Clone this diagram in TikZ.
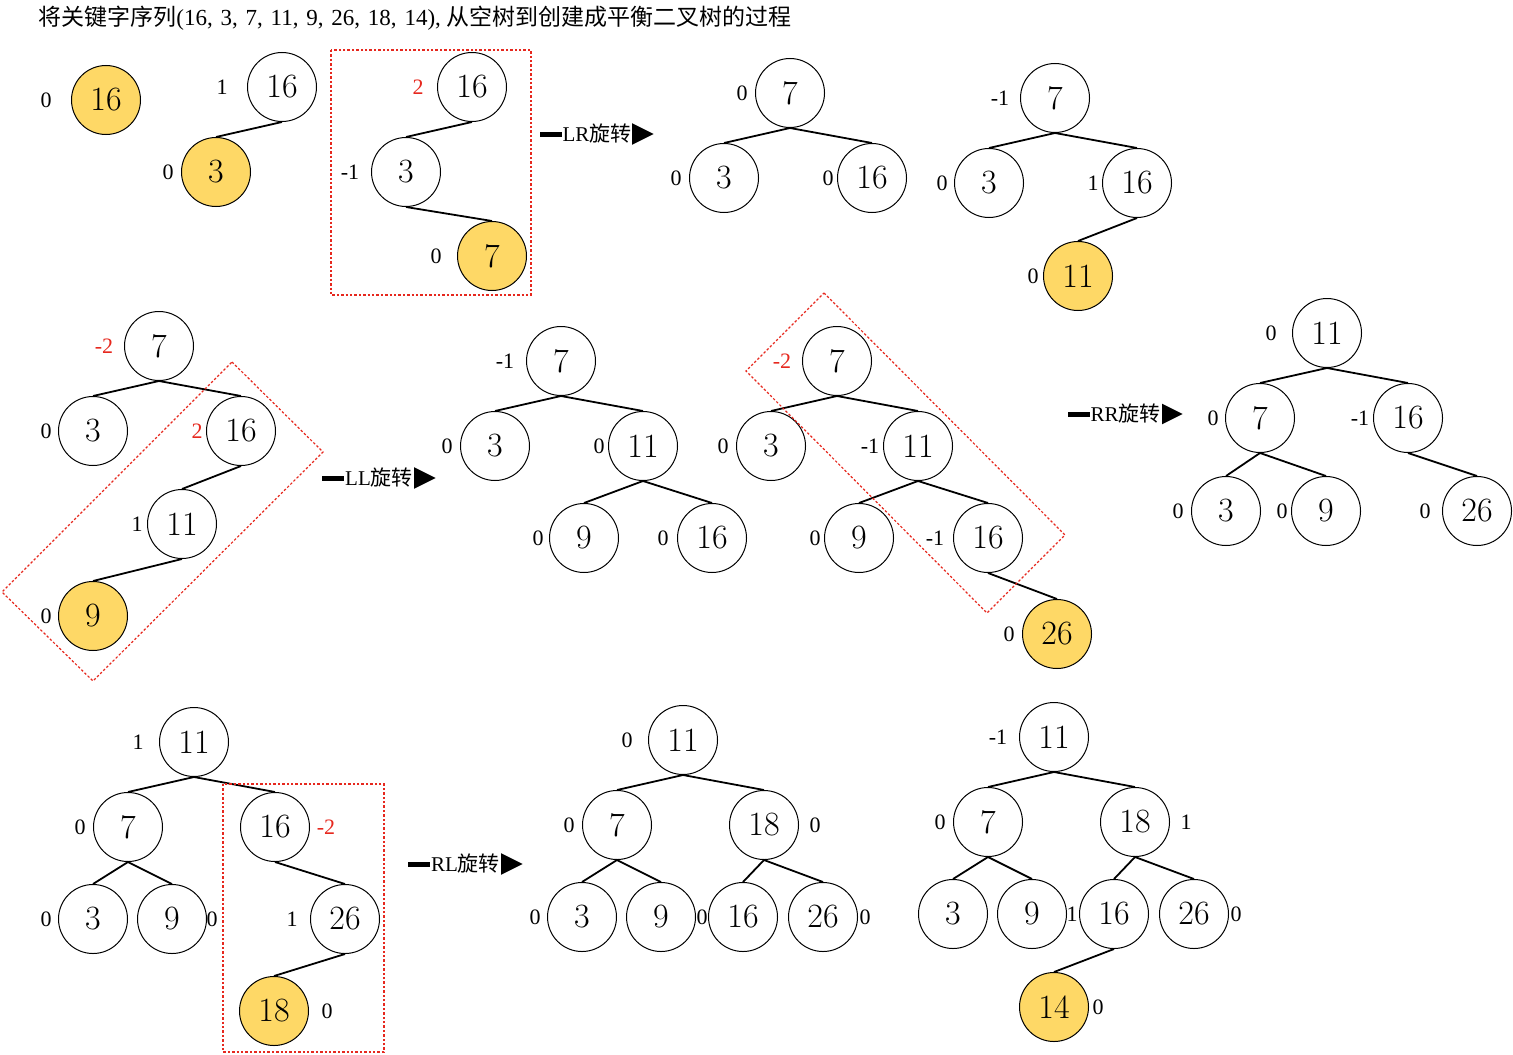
\documentclass[tikz,border=0pt]{standalone}
\usepackage{fontspec}
\setmainfont{Liberation Serif}
\newfontfamily\cjk{Noto Sans CJK SC}
\newfontfamily\lmr{Latin Modern Roman}
\usetikzlibrary{arrows.meta}
\definecolor{ayel}{RGB}{254,216,102}
\definecolor{ared}{RGB}{230,40,30}
\newcommand\tsep{,\hspace{3.9pt}}
\begin{document}
\begin{tikzpicture}[x=0.5pt,y=-0.5pt,
  nd/.style={circle,draw=black,line width=0.5pt,minimum size=34.5pt,inner sep=0pt,font=\lmr\fontsize{17}{17}\selectfont},
  yn/.style={nd,fill=ayel},
  lb/.style={inner sep=0pt,font=\fontsize{11}{11}\selectfont},
  rlb/.style={lb,text=ared},
  edge/.style={line width=0.9pt},
  box/.style={draw=ared,line width=0.6pt,dash pattern=on 1.2pt off 1pt},
  arr/.style={line width=2.5pt,-{Triangle[length=11pt,width=10pt]}},
  atext/.style={fill=white,inner sep=0.5pt,font=\fontsize{10.5}{10.5}\selectfont}
]
\useasboundingbox (0,0) rectangle (1513,1054);
% title
\node[anchor=west,inner sep=0pt,font=\fontsize{11.5}{11.5}\selectfont] (title) at (38,18) {{\cjk 将关键字序列}(16\tsep 3\tsep 7\tsep 11\tsep 9\tsep 26\tsep 18\tsep 14),\hspace{3pt}{\cjk 从空树到创建成平衡二叉树的过程}};

% ---- tree A
\node[yn] (a16) at (106,100) {16};
\node[lb] (a16l) at (46,100) {0};

% ---- tree B
\node[nd] (b16) at (282,87) {16};
\node[yn] (b3) at (216,172) {3};
\node[lb] (b16l) at (222,87) {1};
\node[lb] (b3l) at (168,172) {0};
\draw[edge] (b16.south) -- (b3.north);

% ---- tree C
\node[nd] (c16) at (472,87) {16};
\node[nd] (c3) at (406,172) {3};
\node[yn] (c7) at (492,256) {7};
\node[rlb] (c16l) at (418,87) {2};
\node[lb] (c3l) at (350,172) {-1};
\node[lb] (c7l) at (436,256) {0};
\draw[edge] (c16.south) -- (c3.north);
\draw[edge] (c3.south) -- (c7.north);
\coordinate (cb1) at (331,50);
\coordinate (cb2) at (531,295);
\draw[box] (cb1) rectangle (cb2);

% arrow LR
\coordinate (lr1) at (540,134);
\coordinate (lr2) at (654,134);
\draw[arr] (lr1) -- (lr2) node[midway,atext] (lrt) {LR{\cjk 旋转}};

% ---- tree D
\node[nd] (d7) at (790,93) {7};
\node[nd] (d3) at (724,178) {3};
\node[nd] (d16) at (872,178) {16};
\node[lb] (d7l) at (742,93) {0};
\node[lb] (d3l) at (676,178) {0};
\node[lb] (d16l) at (828,178) {0};
\draw[edge] (d7.south) -- (d3.north);
\draw[edge] (d7.south) -- (d16.north);

% ---- tree E
\node[nd] (e7) at (1055,98) {7};
\node[nd] (e3) at (989,183) {3};
\node[nd] (e16) at (1137,183) {16};
\node[yn] (e11) at (1078,276) {11};
\node[lb] (e7l) at (1000,98) {-1};
\node[lb] (e3l) at (942,183) {0};
\node[lb] (e16l) at (1093,183) {1};
\node[lb] (e11l) at (1033,276) {0};
\draw[edge] (e7.south) -- (e3.north);
\draw[edge] (e7.south) -- (e16.north);
\draw[edge] (e16.south) -- (e11.north);

% ---- tree F
\node[nd] (f7) at (159,346) {7};
\node[nd] (f3) at (93,431) {3};
\node[nd] (f16) at (241,431) {16};
\node[nd] (f11) at (182,524) {11};
\node[yn] (f9) at (93,616) {9};
\node[rlb] (f7l) at (104,346) {-2};
\node[lb] (f3l) at (46,431) {0};
\node[rlb] (f16l) at (197,431) {2};
\node[lb] (f11l) at (137,524) {1};
\node[lb] (f9l) at (46,616) {0};
\draw[edge] (f7.south) -- (f3.north);
\draw[edge] (f7.south) -- (f16.north);
\draw[edge] (f16.south) -- (f11.north);
\draw[edge] (f11.south) -- (f9.north);
\coordinate (fb1) at (232,362);
\coordinate (fb2) at (323,452);
\coordinate (fb3) at (93,681);
\coordinate (fb4) at (2,592);
\draw[box] (fb1) -- (fb2) -- (fb3) -- (fb4) -- cycle;

% arrow LL
\coordinate (ll1) at (322,478);
\coordinate (ll2) at (436,478);
\draw[arr] (ll1) -- (ll2) node[midway,atext] (llt) {LL{\cjk 旋转}};

% ---- tree G
\node[nd] (g7) at (561,361) {7};
\node[nd] (g3) at (495,446) {3};
\node[nd] (g11) at (643,446) {11};
\node[nd] (g9) at (584,538) {9};
\node[nd] (g16) at (712,538) {16};
\node[lb] (g7l) at (505,361) {-1};
\node[lb] (g3l) at (447,446) {0};
\node[lb] (g11l) at (599,446) {0};
\node[lb] (g9l) at (538,538) {0};
\node[lb] (g16l) at (663,538) {0};
\draw[edge] (g7.south) -- (g3.north);
\draw[edge] (g7.south) -- (g11.north);
\draw[edge] (g11.south) -- (g9.north);
\draw[edge] (g11.south) -- (g16.north);

% ---- tree H
\node[nd] (h7) at (837,361) {7};
\node[nd] (h3) at (771,446) {3};
\node[nd] (h11) at (918,446) {11};
\node[nd] (h9) at (859,538) {9};
\node[nd] (h16) at (988,538) {16};
\node[yn] (h26) at (1057,634) {26};
\node[rlb] (h7l) at (782,361) {-2};
\node[lb] (h3l) at (723,446) {0};
\node[lb] (h11l) at (870,446) {-1};
\node[lb] (h9l) at (815,538) {0};
\node[lb] (h16l) at (935,538) {-1};
\node[lb] (h26l) at (1009,634) {0};
\draw[edge] (h7.south) -- (h3.north);
\draw[edge] (h7.south) -- (h11.north);
\draw[edge] (h11.south) -- (h9.north);
\draw[edge] (h11.south) -- (h16.north);
\draw[edge] (h16.south) -- (h26.north);
\coordinate (hb1) at (824,293);
\coordinate (hb2) at (1065,535);
\coordinate (hb3) at (987,613);
\coordinate (hb4) at (746,371);
\draw[box] (hb1) -- (hb2) -- (hb3) -- (hb4) -- cycle;

% arrow RR
\coordinate (rr1) at (1068,414);
\coordinate (rr2) at (1183,414);
\draw[arr] (rr1) -- (rr2) node[midway,atext] (rrt) {RR{\cjk 旋转}};

% ---- tree I
\node[nd] (i11) at (1327,333) {11};
\node[nd] (i7) at (1260,418) {7};
\node[nd] (i16) at (1408,418) {16};
\node[nd] (i3) at (1226,511) {3};
\node[nd] (i9) at (1326,511) {9};
\node[nd] (i26) at (1477,511) {26};
\node[lb] (i11l) at (1271,333) {0};
\node[lb] (i7l) at (1213,418) {0};
\node[lb] (i16l) at (1360,418) {-1};
\node[lb] (i3l) at (1178,511) {0};
\node[lb] (i9l) at (1282,511) {0};
\node[lb] (i26l) at (1425,511) {0};
\draw[edge] (i11.south) -- (i7.north);
\draw[edge] (i11.south) -- (i16.north);
\draw[edge] (i7.south) -- (i3.north);
\draw[edge] (i7.south) -- (i9.north);
\draw[edge] (i16.south) -- (i26.north);

% ---- tree J
\node[nd] (j11) at (194,742) {11};
\node[nd] (j7) at (128,827) {7};
\node[nd] (j16) at (275,827) {16};
\node[nd] (j3) at (93,919) {3};
\node[nd] (j9) at (172,919) {9};
\node[nd] (j26) at (345,919) {26};
\node[yn] (j18) at (274,1011) {18};
\node[lb] (j11l) at (138,742) {1};
\node[lb] (j7l) at (80,827) {0};
\node[rlb] (j16l) at (326,827) {-2};
\node[lb] (j3l) at (46,919) {0};
\node[lb] (j9l) at (212,919) {0};
\node[lb] (j26l) at (292,919) {1};
\node[lb] (j18l) at (327,1011) {0};
\draw[edge] (j11.south) -- (j7.north);
\draw[edge] (j11.south) -- (j16.north);
\draw[edge] (j7.south) -- (j3.north);
\draw[edge] (j7.south) -- (j9.north);
\draw[edge] (j16.south) -- (j26.north);
\draw[edge] (j26.south) -- (j18.north);
\coordinate (jb1) at (223,784);
\coordinate (jb2) at (384,1052);
\draw[box] (jb1) rectangle (jb2);

% arrow RL
\coordinate (rl1) at (408,864);
\coordinate (rl2) at (523,864);
\draw[arr] (rl1) -- (rl2) node[midway,atext] (rlt) {RL{\cjk 旋转}};

% ---- tree K
\node[nd] (k11) at (683,740) {11};
\node[nd] (k7) at (617,825) {7};
\node[nd] (k18) at (764,825) {18};
\node[nd] (k3) at (582,917) {3};
\node[nd] (k9) at (661,917) {9};
\node[nd] (k16) at (743,917) {16};
\node[nd] (k26) at (823,917) {26};
\node[lb] (k11l) at (627,740) {0};
\node[lb] (k7l) at (569,825) {0};
\node[lb] (k18l) at (815,825) {0};
\node[lb] (k3l) at (535,917) {0};
\node[lb] (k9l) at (702,917) {0};
\node[lb] (k26l) at (865,917) {0};
\draw[edge] (k11.south) -- (k7.north);
\draw[edge] (k11.south) -- (k18.north);
\draw[edge] (k7.south) -- (k3.north);
\draw[edge] (k7.south) -- (k9.north);
\draw[edge] (k18.south) -- (k16.north);
\draw[edge] (k18.south) -- (k26.north);

% ---- tree L
\node[nd] (l11) at (1054,737) {11};
\node[nd] (l7) at (988,822) {7};
\node[nd] (l18) at (1135,822) {18};
\node[nd] (l3) at (953,914) {3};
\node[nd] (l9) at (1032,914) {9};
\node[nd] (l16) at (1114,914) {16};
\node[nd] (l26) at (1194,914) {26};
\node[yn] (l14) at (1054,1007) {14};
\node[lb] (l11l) at (998,737) {-1};
\node[lb] (l7l) at (940,822) {0};
\node[lb] (l18l) at (1186,822) {1};
\node[lb] (l16l) at (1072,914) {1};
\node[lb] (l26l) at (1236,914) {0};
\node[lb] (l14l) at (1098,1007) {0};
\draw[edge] (l11.south) -- (l7.north);
\draw[edge] (l11.south) -- (l18.north);
\draw[edge] (l7.south) -- (l3.north);
\draw[edge] (l7.south) -- (l9.north);
\draw[edge] (l18.south) -- (l16.north);
\draw[edge] (l18.south) -- (l26.north);
\draw[edge] (l16.south) -- (l14.north);
\end{tikzpicture}
\end{document}
